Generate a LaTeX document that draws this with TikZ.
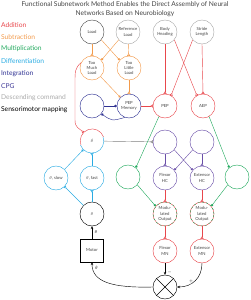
\documentclass[tikz,border=0pt]{standalone}
\usepackage{fontspec}
\setmainfont{Lato}
\usetikzlibrary{arrows.meta}
\definecolor{addc}{HTML}{E8474C}
\definecolor{subc}{HTML}{F29A4B}
\definecolor{mulc}{HTML}{22A95E}
\definecolor{difc}{HTML}{29ABE2}
\definecolor{intc}{HTML}{2E3192}
\definecolor{cpgc}{HTML}{6A4FA8}
\definecolor{desc}{HTML}{AAAAAA}
\definecolor{txtc}{HTML}{444444}
\begin{document}
\begin{tikzpicture}[
    x=0.05cm, y=-0.05cm,
    neuron/.style={circle, draw, line width=0.6pt, minimum size=1.2cm, inner sep=0pt, align=center, text=txtc, font=\fontsize{6}{7.5}\selectfont},
    legend/.style={anchor=west, inner sep=0pt, font=\fontsize{9.5}{11}\selectfont},
    conn/.style={line width=0.6pt},
    syn/.style={conn, -{Triangle[open, reversed, length=3.5pt, width=4.5pt]}},
    inh/.style={conn, -{Circle[length=3.5pt]}},
    arrow/.style={conn, -{Stealth[length=4pt, width=3.5pt]}}
]
\useasboundingbox (0,0) rectangle (250,300);

% Title
\node[align=center, inner sep=0pt, text=txtc, font=\fontsize{9.5}{12.5}\selectfont] (title) at (125,9.5)
    {Functional Subnetwork Method Enables the Direct Assembly of Neural\\Networks Based on Neurobiology};

% Legend
\node[legend, text=addc] (lgadd) at (1,25) {Addition};
\node[legend, text=subc] (lgsub) at (1,37) {Subtraction};
\node[legend, text=mulc] (lgmul) at (1,49) {Multiplication};
\node[legend, text=difc] (lgdif) at (1,61.5) {Differentiation};
\node[legend, text=intc] (lgint) at (1,73.5) {Integration};
\node[legend, text=intc!70!cpgc] (lgcpg) at (1,86) {CPG};
\node[legend, text=desc] (lgdes) at (1,98) {Descending command};
\node[legend, text=black] (lgsen) at (1,110) {Sensorimotor mapping};

% Inputs
\node[neuron, draw=black!70] (load) at (92,32) {Load};
\node[neuron, draw=desc] (refload) at (128,32) {Reference\\Load};
\node[neuron, draw=desc] (heading) at (165,32) {Body\\Heading};
\node[neuron, draw=desc] (stride) at (202,32) {Stride\\Length};

% Load comparison
\node[neuron, draw=subc] (toomuch) at (92,68) {Too\\Much\\Load};
\node[neuron, draw=subc] (toolittle) at (129,68) {Too\\Little\\Load};

% Memory and foot positions
\node[neuron, draw=intc] (integ) at (92,106) {};
\node[neuron, draw=intc] (pepmem) at (129,106) {PEP\\Memory};
\node[neuron, draw=addc] (pep) at (165,106) {PEP};
\node[neuron, draw=addc] (aep) at (203,106) {AEP};

% Angle velocity
\node[neuron, draw=none] (thetadot) at (92,141) {$\dot{\theta}$};
\draw[addc, line width=0.6pt] (thetadot.20) arc[start angle=20, end angle=200, radius=0.6cm];
\draw[difc, line width=0.6pt] (thetadot.200) arc[start angle=200, end angle=380, radius=0.6cm];
\node[neuron, draw=difc] (slow) at (56,178) {$\theta$, slow};
\node[neuron, draw=difc] (fast) at (92,178) {$\theta$, fast};
\node[neuron, draw=black] (theta) at (92,214) {$\theta$};
\node[draw, line width=0.6pt, minimum size=1.15cm, inner sep=0pt, text=txtc, font=\fontsize{6}{7.5}\selectfont] (motor) at (92,250.5) {Motor};

% CPG
\node[neuron, draw=cpgc] (cpgl) at (165,142) {};
\node[neuron, draw=cpgc] (cpgr) at (202,142) {};
\node[neuron, draw=cpgc] (flexhc) at (165,178) {Flexor\\HC};
\node[neuron, draw=cpgc] (exthc) at (202,178) {Extensor\\HC};

% Gating
\node[neuron, draw=mulc] (gatel) at (128,177) {};
\node[neuron, draw=mulc] (gater) at (237,177) {};
\node[neuron, draw=addc] (modl) at (165,214) {Modu-\\lated\\Output};
\node[neuron, draw=addc] (modr) at (202,214) {Modu-\\lated\\Output};
\draw[mulc, line width=0.6pt, dash pattern=on 3pt off 3pt] (modl) circle[radius=0.6cm];
\draw[mulc, line width=0.6pt, dash pattern=on 3pt off 3pt] (modr) circle[radius=0.6cm];

% Motor neurons
\node[neuron, draw=addc] (flexmn) at (165,251) {Flexor\\MN};
\node[neuron, draw=addc] (extmn) at (202,251) {Extensor\\MN};
\node[neuron, draw=black] (comp) at (165,287) {};
\draw[conn] (comp.45) -- (comp.225);
\draw[conn] (comp.135) -- (comp.315);

% Subtraction
\draw[syn, subc] (load) -- (toomuch);
\draw[syn, subc] (refload) -- (toolittle);
\draw[inh, subc] (load.-40) -- (toolittle.140);
\draw[inh, subc] (refload.-140) -- (toomuch.40);
\draw[inh, subc] (toomuch.-45) -- (pepmem.135);
\draw[syn, subc] (toolittle) -- (pepmem);

% Integration
\draw[inh, intc] (integ) -- (pepmem);
\draw[inh, intc] (pepmem.250) .. controls (112,121) .. (integ.-40);

% Addition
\draw[syn, addc] (pepmem) -- (pep);
\draw[syn, addc] (heading.-90) -- (pep.90);
\draw[syn, addc] (stride.-90) -- (aep.90);
\draw[syn, addc] (heading.-40) -- (aep.120);
\draw[syn, addc] (stride.-140) -- (pep.60);
\draw[syn, addc] (toomuch.155) .. controls +(-6,5) and +(0,-10) .. (75,82) -- (75,120) .. controls +(0,8) and +(-4,-4) .. (thetadot.135);

% Differentiation
\draw[syn, difc] (theta) -- (fast);
\draw[syn, difc] (fast) -- (thetadot);
\draw[syn, difc] (theta.135) -- (slow.-45);
\draw[inh, difc] (slow.45) -- (thetadot.-135);

% CPG
\draw[syn, black!50] (thetadot) -- (cpgl);
\draw[syn, cpgc] (cpgl) -- (flexhc);
\draw[syn, cpgc] (cpgr) -- (exthc);
\draw[inh, cpgc] (cpgl.-40) -- (exthc.140);
\draw[inh, cpgc] (cpgr.-140) -- (flexhc.40);

% Multiplication
\draw[inh, mulc] (pep.-120) -- (gatel.50);
\draw[inh, mulc] (aep.-60) -- (gater.130);
\draw[inh, mulc] (gatel.-40) -- (modl.140);
\draw[inh, mulc] (gater.-140) -- (modr.40);

% Outputs
\draw[syn, addc] (flexhc) -- (modl);
\draw[syn, addc] (exthc) -- (modr);
\draw[syn, addc] (modl) -- (flexmn);
\draw[syn, addc] (modr) -- (extmn);

% Sensorimotor mapping
\draw[arrow] (flexmn) -- (comp) node[pos=0.8, right, font=\fontsize{6}{6}\selectfont] {$-$};
\draw[arrow] (extmn.south) .. controls (202,278) and (192,287) .. (comp.east) node[pos=0.75, above right=-1pt, font=\fontsize{6}{6}\selectfont] {$+$};
\draw[arrow] (comp.west) .. controls (112,288) and (92,282) .. (motor.south) node[pos=0.9, right, font=\fontsize{6}{6}\selectfont] {$\dot{\theta}$};
\draw[arrow] (motor) -- (theta) node[midway, right, font=\fontsize{6}{6}\selectfont] {$\theta$};

\end{tikzpicture}
\end{document}
